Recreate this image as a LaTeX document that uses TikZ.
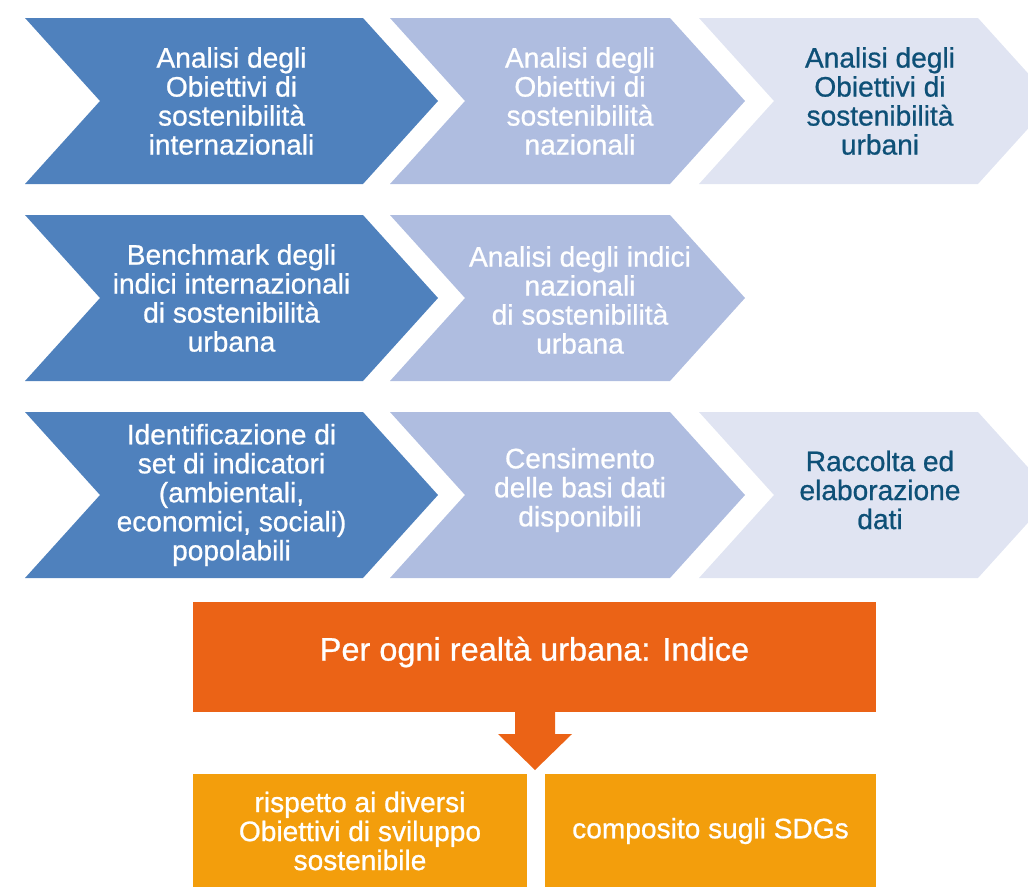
\documentclass[tikz,border=0pt]{standalone}
\usepackage{fontspec}
\setmainfont{Liberation Sans}
\newfontfamily\chevfont{Liberation Sans}[UprightFeatures={FakeBold=0.8}]
\usepackage{tikz}
\usetikzlibrary{positioning,calc}

\definecolor{bluedark}{HTML}{4F81BD}
\definecolor{bluemid}{HTML}{AFBDE0}
\definecolor{bluelight}{HTML}{E0E4F2}
\definecolor{tealtext}{HTML}{0E5077}
\definecolor{orangedark}{HTML}{EB6316}
\definecolor{orangelight}{HTML}{F39E0C}

\tikzset{
  lbl/.style={align=center,text=white,font=\chevfont\fontsize{16}{16.5}\selectfont},
  lbldark/.style={lbl,text=tealtext},
  idxlbl/.style={align=center,text=white,font=\chevfont\fontsize{18.5}{22}\selectfont},
}
% chevron: left x, top y, body width, colour
\newcommand{\chevron}[4]{\fill[#4] (#1,#2) -- ++(#3,0) -- ++(75,83) -- ++(-75,83) -- ++(-#3,0) -- ++(75,-83) -- cycle;}

\begin{document}
\begin{tikzpicture}[x=0.02cm,y=-0.02cm]
\useasboundingbox (0,0) rectangle (1028,886);
\clip (0,0) rectangle (1028,886);
% first row
\chevron{25}{18}{338}{bluedark}
\chevron{390}{18}{280}{bluemid}
\chevron{699}{18}{279}{bluelight}
\node[lbl] (c11) at (231.5,101) {Analisi degli\\Obiettivi di\\sostenibilità\\internazionali};
\node[lbl] (c12) at (580,101) {Analisi degli\\Obiettivi di\\sostenibilità\\nazionali};
\node[lbldark] (c13) at (880,101) {Analisi degli\\Obiettivi di\\sostenibilità\\urbani};
% second row
\chevron{25}{215}{338}{bluedark}
\chevron{390}{215}{280}{bluemid}
\node[lbl] (c21) at (231.5,298) {Benchmark degli\\indici internazionali\\di sostenibilità\\urbana};
\node[lbl] (c22) at (580,300) {Analisi degli indici\\nazionali\\di sostenibilità\\urbana};
% third row
\chevron{25}{412}{338}{bluedark}
\chevron{390}{412}{280}{bluemid}
\chevron{699}{412}{279}{bluelight}
\node[lbl] (c31) at (231.5,495) {Identificazione di\\set di indicatori\\(ambientali,\\economici, sociali)\\popolabili};
\node[lbl] (c32) at (580,490) {Censimento\\delle basi dati\\disponibili};
\node[lbldark] (c33) at (880,490) {Raccolta ed\\elaborazione\\dati};
% index box and arrow
\fill[orangedark] (193,602) rectangle (876,712);
\node[idxlbl] (idx) at (534.5,652) {Per ogni realtà urbana: Indice};
\coordinate (tip) at (535,770);
\fill[orangedark] (515,712) -- (555,712) -- (555,734) -- (572,734) -- (tip) -- (498,734) -- (515,734) -- cycle;
\fill[orangelight] (193,774) rectangle (527,900);
\fill[orangelight] (545,774) rectangle (876,900);
\node[lbl] (sdg1) at (360,831) {rispetto ai diversi\\Obiettivi di sviluppo\\sostenibile};
\node[lbl] (sdg2) at (710.5,831) {composito sugli SDGs};
\end{tikzpicture}
\end{document}
